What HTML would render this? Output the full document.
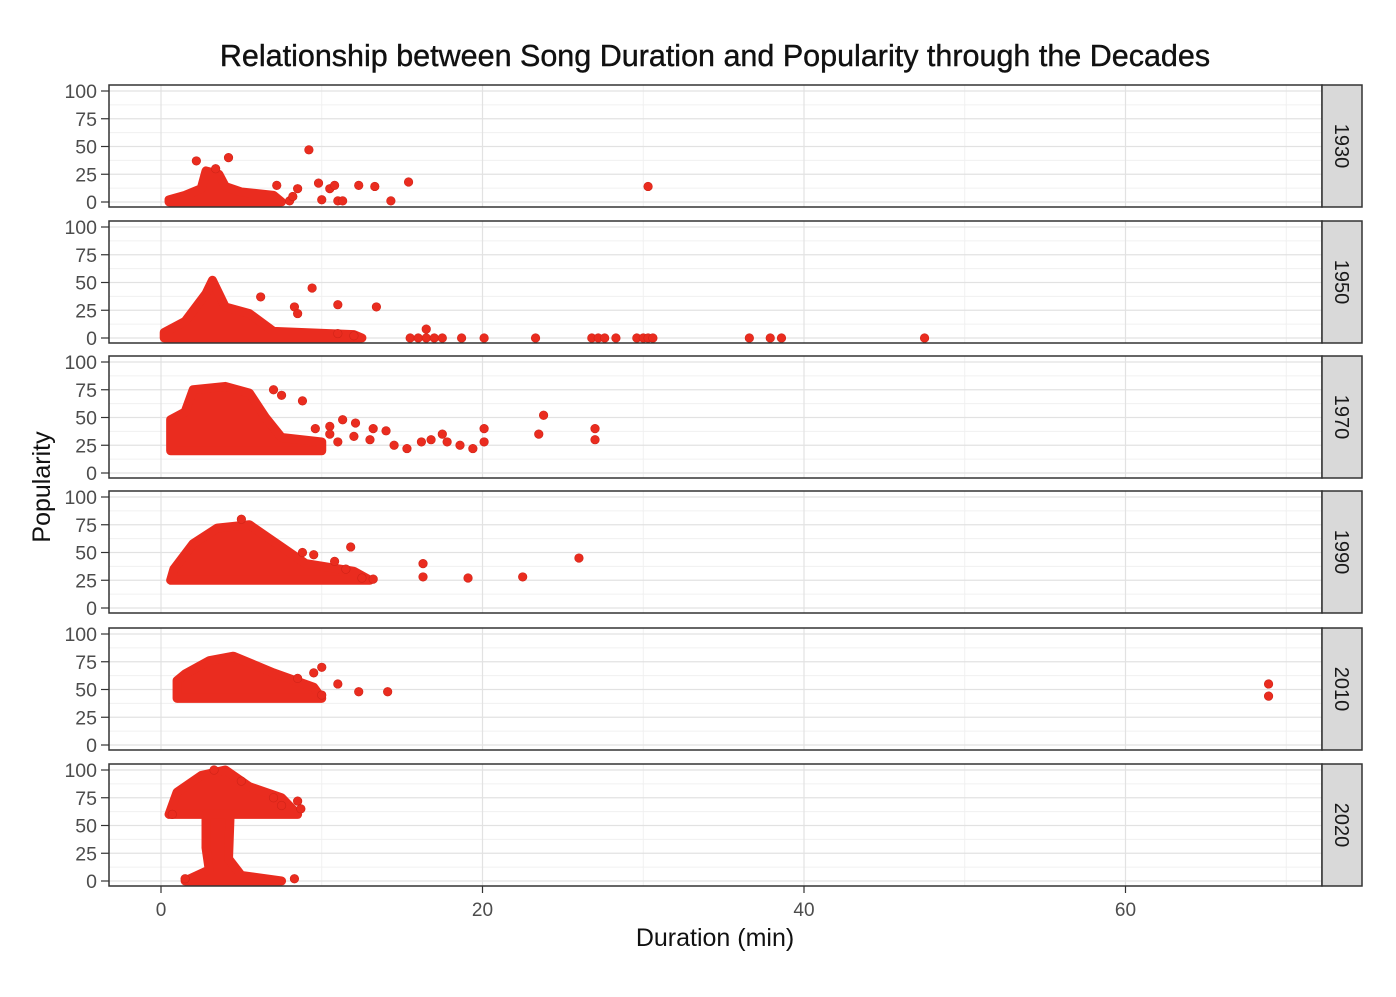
<!DOCTYPE html>
<html><head><meta charset="utf-8"><style>
html,body{margin:0;padding:0;background:#fff;}
svg text{font-family:"Liberation Sans",Arial,sans-serif;}
</style></head><body>
<svg id="s" width="1396" height="992" xmlns="http://www.w3.org/2000/svg"></svg>
<script>
const S=document.getElementById('s');
let h='';
const X0=161, PX=16.075, L=109, R=1322;
const tops=[85,221,356,491,628,764], PH=122;
const labs=['1930','1950','1970','1990','2010','2020'];
const xm=m=>X0+m*PX;
const ym=(t,p)=>t+117-p*1.11;
h+='<text x="715" y="66" font-size="30.5" text-anchor="middle" fill="#111" stroke="#111" stroke-width="0.4">Relationship between Song Duration and Popularity through the Decades</text>';
const blobs=[
 [[[0.5,0],[7.5,0],[7,6],[5,9],[4,14],[3.6,25],[2.8,28],[2.5,12],[1.5,6],[0.5,2]]],
 [[[0.2,0],[12.5,0],[12,3],[7,6],[5.5,22],[4,28],[3.2,52],[2.8,40],[1.5,15],[0.2,5]]],
 [[[0.6,20],[10,20],[10,28],[7.5,32],[6.5,50],[5.5,72],[4,78],[2,75],[1.5,55],[0.6,48]]],
 [[[0.6,25],[13,25],[12,33],[9,40],[7.5,55],[5.5,75],[3.5,72],[2,58],[0.8,35]]],
 [[[1,42],[10,42],[9.5,52],[7,65],[4.5,80],[3,76],[1.5,64],[1,58]]],
 [[[0.5,60],[8.5,60],[7.5,75],[5.5,85],[4,100],[2.5,95],[1,80]],[[2.8,60],[4.3,60],[4.2,20],[5,5],[7.5,0],[1.5,0],[3,10],[2.8,30]]]
];
const dots=[
 [[2.2,37],[3.4,30],[4.2,40],[9.2,47],[8.5,12],[9.8,17],[10.5,12],[10.8,15],[12.3,15],[13.3,14],[15.4,18],[30.3,14],[14.3,1],[10,2],[11,1],[8,1],[7.2,15],[8.2,5],[11.3,1]],
 [[6.2,37],[9.4,45],[11,30],[13.4,28],[8.3,28],[8.5,22],[15.5,0],[16,0],[16.5,0],[17,0],[17.5,0],[18.7,0],[20.1,0],[23.3,0],[26.8,0],[27.2,0],[27.6,0],[28.3,0],[29.6,0],[30,0],[30.3,0],[30.6,0],[36.6,0],[37.9,0],[38.6,0],[47.5,0],[16.5,8],[11,4],[12,2]],
 [[7,75],[7.5,70],[8.8,65],[9.6,40],[10.5,42],[11.3,48],[12.1,45],[13.2,40],[14,38],[13,30],[14.5,25],[15.3,22],[16.2,28],[16.8,30],[17.5,35],[17.8,28],[18.6,25],[19.4,22],[20.1,40],[20.1,28],[23.5,35],[23.8,52],[27,40],[27,30],[11,28],[12,33],[10.5,35]],
 [[5,80],[11.8,55],[16.3,40],[16.3,28],[19.1,27],[22.5,28],[26,45],[10.8,42],[11.5,35],[12.5,27],[13.2,26],[9.5,48],[8.8,50]],
 [[10,70],[11,55],[12.3,48],[14.1,48],[68.9,55],[68.9,44],[10,45],[9.5,65],[8.5,60]],
 [[8.5,72],[8.7,65],[7.5,68],[8.3,2],[1.5,2],[7,75],[5,90],[3.3,100],[0.7,60]]
];
tops.forEach((t,i)=>{
 const b=t+PH;
 h+=`<rect x="${L}" y="${t}" width="${R-L}" height="${PH}" fill="#fff"/>`;
 for(let p=12.5;p<100;p+=25){const y=ym(t,p);h+=`<line x1="${L}" x2="${R}" y1="${y}" y2="${y}" stroke="#f0f0f0" stroke-width="1"/>`;}
 for(const m of [10,30,50,70]){h+=`<line x1="${xm(m)}" x2="${xm(m)}" y1="${t}" y2="${b}" stroke="#f0f0f0" stroke-width="1"/>`;}
 for(const p of [0,25,50,75,100]){const y=ym(t,p);h+=`<line x1="${L}" x2="${R}" y1="${y}" y2="${y}" stroke="#e2e2e2" stroke-width="1.2"/>`;
  h+=`<line x1="101" x2="${L}" y1="${y}" y2="${y}" stroke="#333" stroke-width="1.2"/>`;
  h+=`<text x="97" y="${y+7}" font-size="19.5" text-anchor="end" fill="#4d4d4d">${p}</text>`;}
 for(const m of [0,20,40,60]){h+=`<line x1="${xm(m)}" x2="${xm(m)}" y1="${t}" y2="${b}" stroke="#e2e2e2" stroke-width="1.2"/>`;}
 blobs[i].forEach(pg=>{h+=`<polygon points="${pg.map(q=>xm(q[0])+','+ym(t,q[1])).join(' ')}" fill="#ea2c1f" stroke="#ea2c1f" stroke-width="9" stroke-linejoin="round"/>`;});
 dots[i].forEach(q=>{h+=`<circle cx="${xm(q[0])}" cy="${ym(t,q[1])}" r="4.3" fill="#ea2c1f" stroke="#d02418" stroke-width="0.6"/>`;});
 h+=`<rect x="${L}" y="${t}" width="${R-L}" height="${PH}" fill="none" stroke="#333" stroke-width="1.5"/>`;
 h+=`<rect x="${R}" y="${t}" width="40" height="${PH}" fill="#d9d9d9" stroke="#333" stroke-width="1.5"/>`;
 h+=`<text transform="translate(${R+13},${t+PH/2}) rotate(90)" font-size="20" text-anchor="middle" fill="#1a1a1a">${labs[i]}</text>`;
});
for(const m of [0,20,40,60]){h+=`<line x1="${xm(m)}" x2="${xm(m)}" y1="886" y2="893" stroke="#333" stroke-width="1.2"/>`;
 h+=`<text x="${xm(m)}" y="916" font-size="19" text-anchor="middle" fill="#4d4d4d">${m}</text>`;}
h+='<text x="715" y="946" font-size="25" text-anchor="middle" fill="#111">Duration (min)</text>';
h+='<text transform="translate(50,487) rotate(-90)" font-size="25" text-anchor="middle" fill="#111">Popularity</text>';
S.innerHTML=h;
</script>
</body></html>
